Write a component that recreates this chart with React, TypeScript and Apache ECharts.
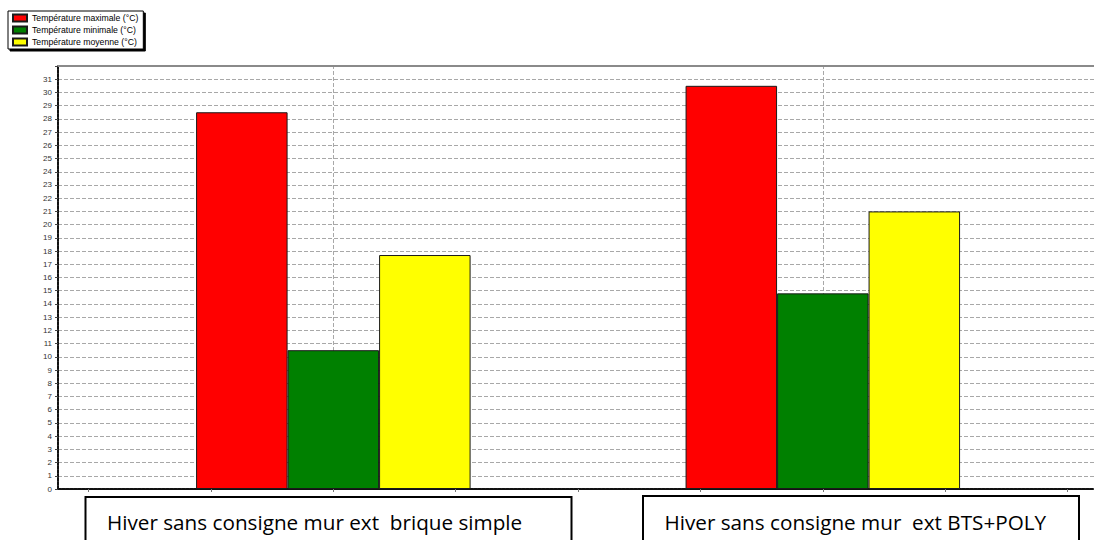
import React, { useEffect, useRef } from "react";
import * as echarts from "echarts";

const categories = [
  "Hiver sans consigne mur ext  brique simple",
  "Hiver sans consigne mur  ext BTS+POLY",
];
const seriesNames = [
  "Température maximale (°C)",
  "Température minimale (°C)",
  "Température moyenne (°C)",
];
const tempMax = [28.5, 30.5];
const tempMin = [10.5, 14.8];
const tempMoy = [17.7, 21.0];
const seriesColors = ["#ff0000", "#008000", "#ffff00"];
const yMax = 32;
const yInterval = 1;
const xTickValues = [-0.5, -0.25, 0, 0.25, 0.5, 0.75, 1, 1.25, 1.5];

export default function App() {
  const ref = useRef<HTMLDivElement>(null);
  useEffect(() => {
    if (!ref.current) return;
    const chart = echarts.init(ref.current, undefined, { renderer: "svg" });
    const values = [tempMax, tempMin, tempMoy];
    const series: any[] = values.map((vals, si) => ({
      name: seriesNames[si],
      type: "bar",
      barWidth: 91.5,
      barGap: "0%",
      data: vals.map((v, i) => [i, v]),
      itemStyle: { color: seriesColors[si], borderColor: "#1a1a1a", borderWidth: 1 },
      ...(si === 1
        ? {
            markLine: {
              silent: true,
              symbol: "none",
              z: 0,
              label: { show: false },
              lineStyle: { color: "#a8a8a8", type: [4, 2], width: 1 },
              data: categories.map((_, i) => ({ xAxis: i })),
            },
          }
        : {}),
    }));

    chart.setOption({
      animation: false,
      backgroundColor: "#ffffff",
      textStyle: { fontFamily: "Liberation Sans, Arial, sans-serif" },
      legend: {
        orient: "vertical",
        left: 8,
        top: 11,
        padding: [2, 5, 2, 4],
        itemGap: 2,
        itemWidth: 14,
        itemHeight: 7,
        icon: "rect",
        backgroundColor: "#ffffff",
        borderColor: "#000000",
        borderWidth: 1,
        borderRadius: 0,
        shadowColor: "#000000",
        shadowOffsetX: 2,
        shadowOffsetY: 2,
        shadowBlur: 0,
        textStyle: { fontSize: 8.7, lineHeight: 10, color: "#000", fontFamily: "Liberation Sans, Arial, sans-serif" },
        data: seriesNames,
      },
      grid: { left: 58, right: 0, top: 66, bottom: 51, containLabel: false },
      xAxis: [
        {
          type: "value",
          min: -0.5625,
          max: 1.554,
          axisLine: { show: true, onZero: false, lineStyle: { color: "#111", width: 2, type: [3, 1] } },
          axisTick: { show: true, customValues: xTickValues, length: 3, lineStyle: { color: "#777" } },
          axisLabel: { show: false },
          splitLine: { show: false },
        },
        {
          type: "value",
          position: "top",
          min: -0.5625,
          max: 1.554,
          axisLine: { show: true, onZero: false, lineStyle: { color: "#8a8a8a", width: 2 } },
          axisTick: { show: false },
          axisLabel: { show: false },
          splitLine: { show: false },
        },
      ],
      yAxis: {
        type: "value",
        min: 0,
        max: yMax,
        interval: yInterval,
        axisLine: { show: true, onZero: false, lineStyle: { color: "#111", width: 2, type: [3, 1] } },
        axisTick: { show: true, length: 3, lineStyle: { color: "#444" } },
        axisLabel: {
          fontSize: 8,
          color: "#333",
          margin: 6,
          formatter: (v: number) => (v >= yMax ? "" : String(v)),
        },
        splitLine: { show: true, lineStyle: { color: "#a8a8a8", type: [4, 2], width: 1 } },
      },
      series,
      graphic: [
        {
          type: "rect",
          shape: { x: 85.5, y: 497, width: 486, height: 60 },
          style: { fill: "#fff", stroke: "#000", lineWidth: 2 },
        },
        {
          type: "text",
          x: 107,
          y: 522,
          style: {
            text: categories[0],
            fill: "#000",
            font: "20.7px 'Open Sans', 'Noto Sans', sans-serif",
            verticalAlign: "middle",
          },
        },
        {
          type: "rect",
          shape: { x: 643, y: 496, width: 436, height: 60 },
          style: { fill: "#fff", stroke: "#000", lineWidth: 2 },
        },
        {
          type: "text",
          x: 664.5,
          y: 522,
          style: {
            text: categories[1],
            fill: "#000",
            font: "20.7px 'Open Sans', 'Noto Sans', sans-serif",
            verticalAlign: "middle",
          },
        },
      ],
    });
    return () => chart.dispose();
  }, []);
  return (
    <div
      ref={ref}
      style={{ position: "fixed", left: 0, top: 0, width: 1094, height: 540 }}
    />
  );
}
